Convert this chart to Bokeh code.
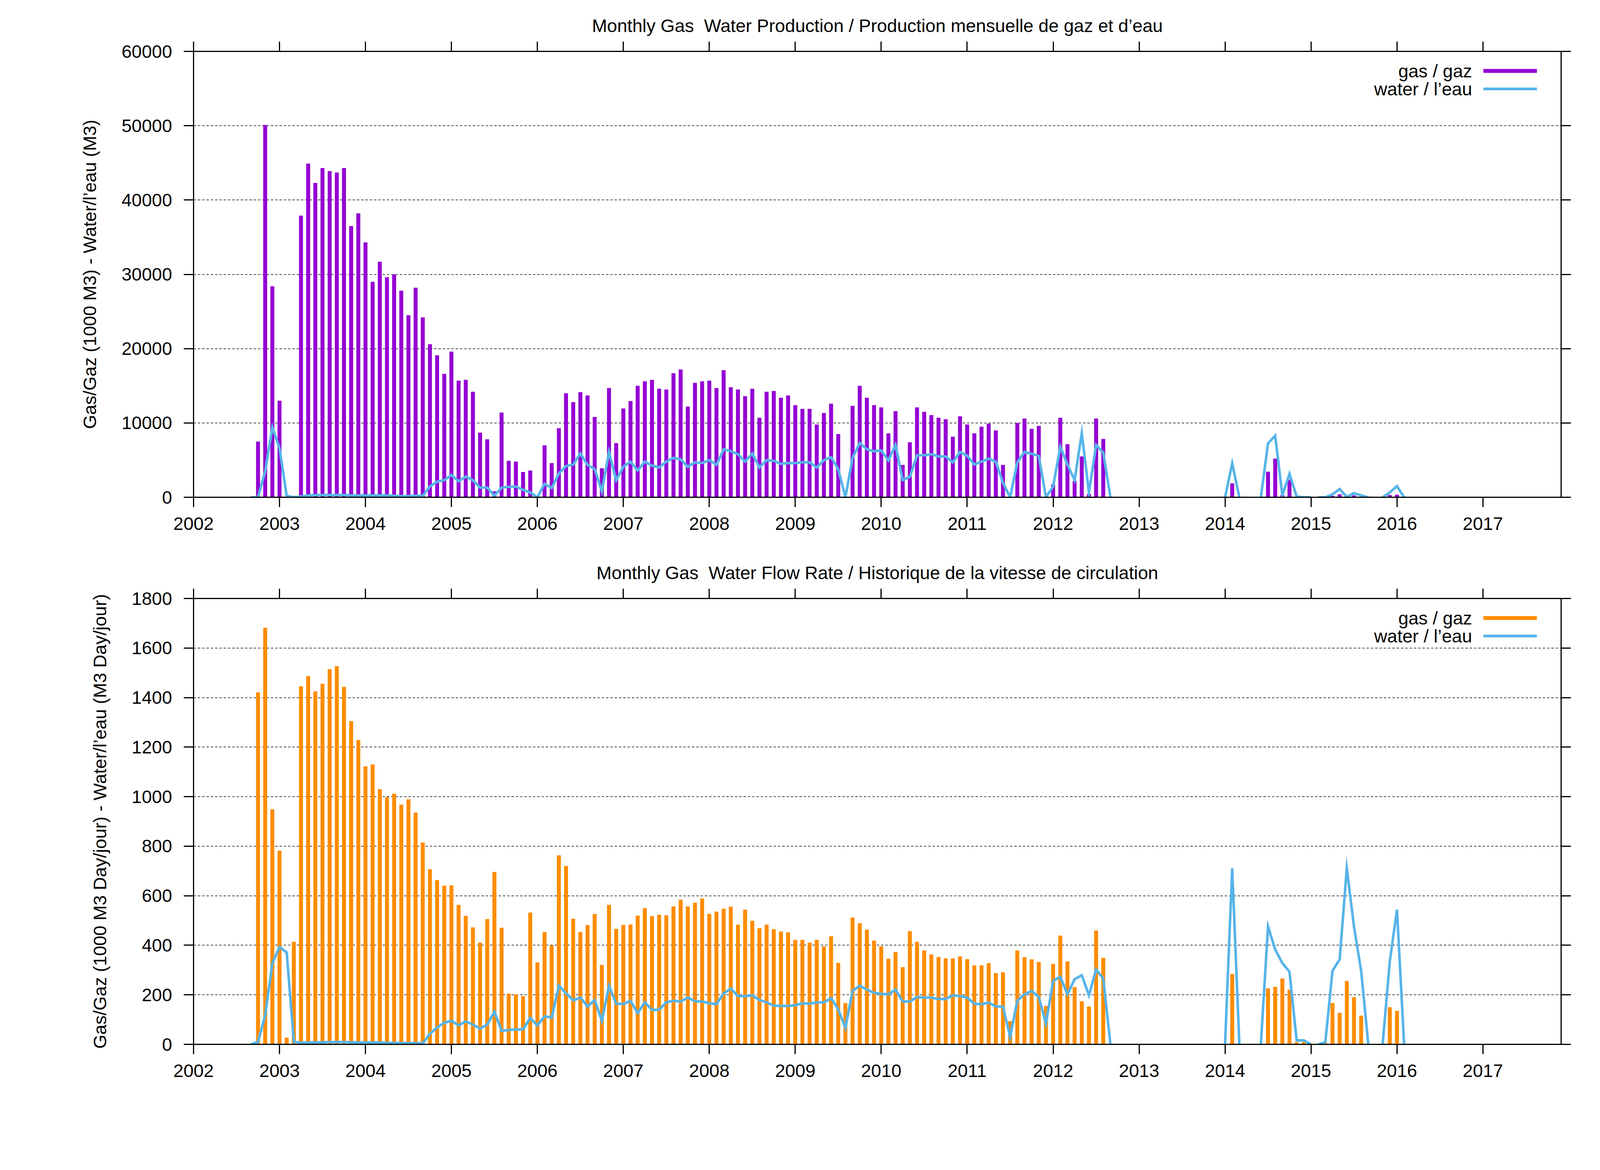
import math
from bokeh.plotting import figure
from bokeh.models import (Range1d, FixedTicker, LinearAxis, Label, Arrow,
                          CustomJSTickFormatter, NumeralTickFormatter)
from bokeh.layouts import column
from bokeh.embed import file_html
from bokeh.resources import INLINE

FONT = "Liberation Sans"
FS = "46.5px"
PURPLE = "#9400D3"
ORANGE = "#FF8C00"
BLUE = "#56B4E9"

# ---------------- data ----------------
main_start = "2002-09"   # monthly values from Sep 2002 to Sep 2012

gas_prod = [
    0, 7500, 50100, 28400,                                                      # 2002 Sep-Dec
    13000, 0, 200, 37900, 44900, 42300, 44300, 43900, 43700, 44300, 36500, 38200,  # 2003
    34300, 29000, 31700, 29600, 30000, 27800, 24500, 28200, 24200, 20600, 19100, 16600,  # 2004
    19600, 15700, 15800, 14200, 8700, 7800, 800, 11400, 4900, 4800, 3400, 3600,  # 2005
    0, 7000, 4600, 9300, 14000, 12800, 14150, 13700, 10800, 3900, 14700, 7300,  # 2006
    11950, 12950, 15000, 15600, 15800, 14600, 14500, 16700, 17200, 12200, 15400, 15600,  # 2007
    15700, 14700, 17100, 14800, 14500, 13600, 14600, 10700, 14200, 14300, 13400, 13700,  # 2008
    12400, 11900, 11900, 9800, 11350, 12600, 8500, 0, 12300, 15000, 13400, 12400,  # 2009
    12100, 8600, 11600, 4350, 7400, 12100, 11500, 11050, 10700, 10500, 8150, 10900,  # 2010
    9800, 8600, 9500, 9900, 9000, 4350, 0, 10000, 10600, 9200, 9600, 0,          # 2011
    1700, 10700, 7150, 2200, 5500, 450, 10600, 7850, 0,                          # 2012 Jan-Sep
]

water_prod = [
    0, 0, 3500, 9400,
    6600, 200, 0, 100, 250, 300, 300, 300, 300, 300, 250, 250,
    250, 250, 250, 250, 200, 150, 150, 200, 200, 1450, 2100, 2300,
    3000, 2150, 2800, 2300, 1300, 1300, 200, 1300, 1400, 1450, 1000, 650,
    0, 1800, 1250, 3200, 4200, 4400, 5900, 4350, 3800, 800, 6100, 2300,
    4100, 4800, 3600, 4800, 4250, 4000, 4800, 5300, 5100, 4100, 4700, 4600,
    5000, 4350, 6450, 6200, 5800, 4800, 5900, 4000, 5000, 4900, 4500, 4600,
    4600, 4700, 4700, 4000, 5000, 5400, 3800, 0, 5300, 7300, 6450, 6200,
    6300, 4950, 7050, 2300, 2750, 5650, 5650, 5800, 5500, 5500, 4700, 6100,
    5600, 4400, 4800, 5200, 4800, 1950, 0, 4700, 6100, 5850, 5550, 0,
    1450, 6800, 4400, 2300, 8650, 650, 7050, 6000, 0,
]

gas_rate = [
    0, 1421, 1682, 949,
    782, 27, 414, 1446, 1487, 1425, 1456, 1515, 1527, 1443, 1305, 1229,
    1123, 1130, 1030, 998, 1012, 968, 989, 936, 815, 707, 663, 641,
    642, 563, 519, 472, 411, 506, 696, 471, 205, 202, 195, 532,
    331, 453, 400, 763, 720, 507, 454, 482, 526, 321, 563, 466,
    482, 484, 520, 550, 518, 523, 521, 557, 584, 557, 572, 589,
    527, 536, 548, 556, 483, 544, 499, 469, 483, 465, 456, 452,
    422, 422, 411, 422, 395, 436, 329, 167, 512, 489, 463, 419,
    396, 346, 373, 312, 457, 414, 379, 363, 353, 347, 347, 355,
    344, 319, 319, 328, 288, 291, 94, 379, 352, 343, 333, 155,
    325, 439, 335, 231, 174, 153, 460, 349, 0,
]

water_rate = [
    0, 10, 117, 328,
    393, 371, 10, 6, 7, 8, 8, 9, 9, 9, 8, 7,
    7, 7, 7, 6, 6, 5, 5, 5, 4, 43, 68, 87,
    95, 77, 93, 80, 64, 80, 132, 55, 58, 60, 61, 107,
    76, 113, 108, 237, 206, 178, 189, 153, 179, 95, 237, 164,
    163, 176, 126, 170, 139, 140, 170, 176, 173, 189, 174, 173,
    166, 162, 206, 225, 195, 195, 198, 179, 170, 156, 155, 155,
    158, 166, 164, 169, 169, 187, 141, 66, 216, 237, 221, 208,
    204, 202, 221, 173, 173, 191, 189, 189, 183, 183, 198, 195,
    189, 164, 162, 169, 153, 153, 30, 176, 202, 216, 191, 84,
    256, 273, 202, 263, 279, 198, 302, 266, 0,
]

late_gas_months = ["2014-02", "2014-07", "2014-08", "2014-09", "2014-10", "2014-11",
                   "2014-12", "2015-03", "2015-04", "2015-05", "2015-06", "2015-07",
                   "2015-08", "2015-12", "2016-01"]
late_gas_prod = [1870, 3440, 5200, 300, 2360, 40, 40, 20, 200, 400, 120, 260, 100, 300, 350]
late_gas_rate = [284, 226, 232, 266, 221, 9, 10, 6, 167, 127, 256, 190, 116, 150, 135]

late_water_starts = ["2014-01", "2014-06", "2015-02", "2015-11"]
late_water_prod = [[0, 4550, 0],
                   [0, 7250, 8300, 260, 3150, 100, 0, 0],
                   [0, 0, 400, 1100, 50, 550, 250, 0],
                   [0, 650, 1500, 0]]
late_water_rate = [[0, 711, 0],
                   [0, 476, 383, 328, 293, 16, 16, 0],
                   [0, 9, 297, 343, 711, 476, 297, 0],
                   [0, 334, 544, 0]]

year_ticks = [2002, 2003, 2004, 2005, 2006, 2007, 2008, 2009, 2010,
              2011, 2012, 2013, 2014, 2015, 2016, 2017]
prod_ticks = [0, 10000, 20000, 30000, 40000, 50000, 60000]
rate_ticks = [0, 200, 400, 600, 800, 1000, 1200, 1400, 1600, 1800]

titles = ["Monthly Gas \u00a0Water Production / Production mensuelle de gaz et d\u2019eau",
          "Monthly Gas \u00a0Water Flow Rate / Historique de la vitesse de circulation"]
ylabels = ["Gas/Gaz (1000 M3) - Water/l\u2019eau (M3)",
           "Gas/Gaz (1000 M3 Day/jour) - Water/l\u2019eau (M3 Day/jour)"]
legend_labels = ["gas / gaz", "water / l\u2019eau"]


# ---------------- helpers ----------------
def mx(s):
    y, m = s.split("-")
    return int(y) + (int(m) - 1) / 12.0


assert len(gas_prod) == len(water_prod) == len(gas_rate) == len(water_rate) == 121

x0 = mx(main_start)
main_x = [x0 + i / 12.0 for i in range(len(gas_prod))]
late_x = [mx(s) for s in late_gas_months]


def water_xy(main_vals, late_segs):
    xs = list(main_x)
    ys = list(main_vals)
    for start, seg in zip(late_water_starts, late_segs):
        xs.append(float("nan"))
        ys.append(float("nan"))
        s = mx(start)
        xs += [s + i / 12.0 for i in range(len(seg))]
        ys += list(seg)
    return xs, ys


W = 4094
FRAME_W = 3501
FRAME_H = 1141
LEFT = 495
TOP = 131


def style_axis(ax, show_labels=True):
    ax.axis_line_width = 3
    ax.axis_line_color = "black"
    ax.major_tick_line_width = 3
    ax.major_tick_line_color = "black"
    ax.major_tick_out = 25
    ax.major_tick_in = 0
    ax.minor_tick_out = 0
    ax.minor_tick_in = 0
    ax.major_label_text_font = FONT
    ax.major_label_text_font_size = FS
    ax.major_label_text_color = "black"
    if not show_labels:
        ax.formatter = CustomJSTickFormatter(code="return ''")


def make_fig(idx, height, ymax, yticks, bar_color, gas_main, gas_late, water_main, water_late):
    p = figure(width=W, height=height,
               x_range=Range1d(2002, 2017.91), y_range=Range1d(0, ymax),
               output_backend="svg", toolbar_location=None,
               min_border_left=LEFT, min_border_right=W - LEFT - FRAME_W,
               min_border_top=TOP, min_border_bottom=height - TOP - FRAME_H,
               title=titles[idx])
    p.title.text_font = FONT
    p.title.text_font_size = FS
    p.title.text_font_style = "normal"
    p.title.text_color = "black"
    p.title.align = "center"
    p.title.standoff = 30

    p.outline_line_color = "black"
    p.outline_line_width = 3
    p.background_fill_color = "white"
    p.border_fill_color = "white"

    p.xgrid.visible = False
    p.ygrid.ticker = FixedTicker(ticks=yticks)
    p.ygrid.grid_line_color = "black"
    p.ygrid.grid_line_width = 1.5
    p.ygrid.grid_line_dash = "6 5"

    xa = p.xaxis[0]
    ya = p.yaxis[0]
    xa.ticker = FixedTicker(ticks=year_ticks)
    xa.formatter = NumeralTickFormatter(format="0")
    ya.ticker = FixedTicker(ticks=yticks)
    ya.formatter = NumeralTickFormatter(format="0")
    style_axis(xa)
    style_axis(ya)
    xa.major_label_standoff = 26
    ya.major_label_standoff = 30
    ya.axis_label = ylabels[idx]
    ya.axis_label_text_font = FONT
    ya.axis_label_text_font_size = FS
    ya.axis_label_text_font_style = "normal"
    ya.axis_label_text_color = "black"
    ya.axis_label_standoff = 52

    top_ax = LinearAxis(ticker=FixedTicker(ticks=year_ticks))
    style_axis(top_ax, show_labels=False)
    p.add_layout(top_ax, "above")
    right_ax = LinearAxis(ticker=FixedTicker(ticks=yticks))
    style_axis(right_ax, show_labels=False)
    p.add_layout(right_ax, "right")

    # bars
    p.vbar(x=main_x, top=gas_main, width=0.046, fill_color=bar_color, line_color=None)
    p.vbar(x=late_x, top=gas_late, width=0.046, fill_color=bar_color, line_color=None)
    # water line
    wx, wy = water_xy(water_main, water_late)
    p.line(wx, wy, line_color=BLUE, line_width=6.5, line_join="miter")

    # legend (text right-aligned, sample to the right)
    text_right = 3273
    samp0, samp1 = 3302, 3439
    rows = [FRAME_H - 50, FRAME_H - 96]
    colors = [bar_color, BLUE]
    widths = [10, 7]
    for lab, yy, c, lw in zip(legend_labels, rows, colors, widths):
        p.add_layout(Label(x=text_right, y=yy, x_units="screen", y_units="screen",
                           text=lab, text_align="right", text_baseline="middle",
                           text_font=FONT, text_font_size=FS, text_color="black"))
        p.add_layout(Arrow(end=None, x_start=samp0, y_start=yy, x_end=samp1, y_end=yy,
                           start_units="screen", end_units="screen",
                           line_color=c, line_width=lw))
    return p


p1 = make_fig(0, 1400, 60000, prod_ticks, PURPLE, gas_prod, late_gas_prod,
              water_prod, late_water_prod)
p2 = make_fig(1, 1440, 1800, rate_ticks, ORANGE, gas_rate, late_gas_rate,
              water_rate, late_water_rate)

layout = column(p1, p2, spacing=0)
open("out.html", "w").write(file_html(layout, INLINE))
